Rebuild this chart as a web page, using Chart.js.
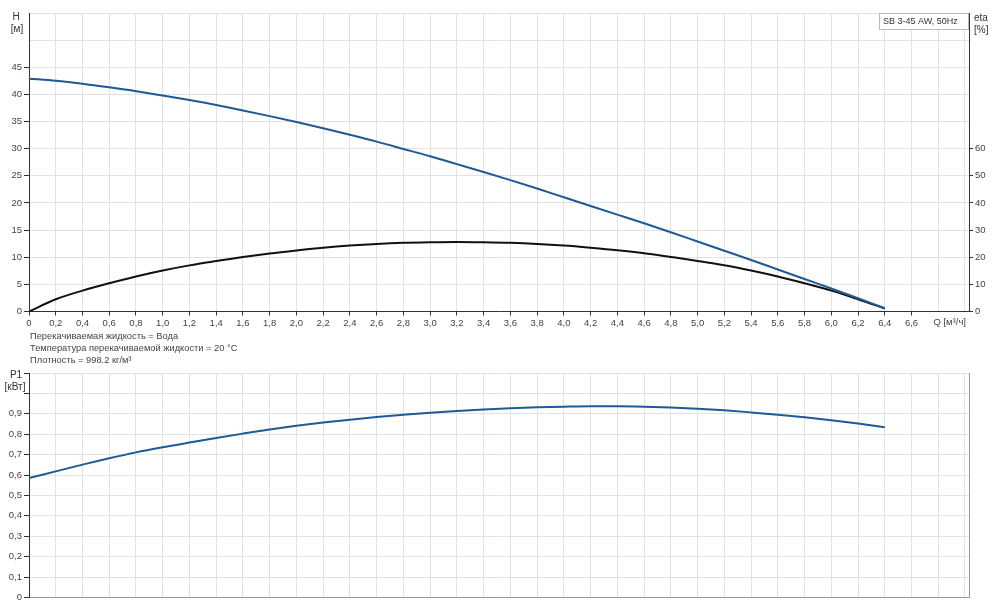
<!DOCTYPE html>
<html><head><meta charset="utf-8">
<script src="https://cdn.jsdelivr.net/npm/chart.js@4/dist/chart.umd.min.js"></script>
<style>
html,body{margin:0;padding:0;background:#fff;width:1000px;height:612px;overflow:hidden;font-family:"Liberation Sans",Arial,sans-serif;}
canvas{position:absolute;left:0;}
#c1{top:0;}
#c2{top:360px;}
.info{position:absolute;left:30px;font-size:9.3px;color:#444;line-height:12px;white-space:nowrap;}
</style></head><body>
<canvas id="c1" width="1000" height="340" style="width:1000px;height:340px"></canvas>
<canvas id="c2" width="1000" height="252" style="width:1000px;height:252px"></canvas>
<div class="info" style="top:330px">Перекачиваемая жидкость = Вода</div>
<div class="info" style="top:342px">Температура перекачиваемой жидкости = 20 °C</div>
<div class="info" style="top:354px">Плотность = 998.2 кг/м³</div>
<script>
// ---- data ----
const Q = [0,0.2,0.4,0.6,0.8,1.0,1.2,1.4,1.6,1.8,2.0,2.2,2.4,2.6,2.8,3.0,3.2,3.4,3.6,3.8,4.0,4.2,4.4,4.6,4.8,5.0,5.2,5.4,5.6,5.8,6.0,6.2,6.4];
const H = [42.9,42.5,41.95,41.3,40.6,39.8,38.95,38.05,37.05,36.0,34.9,33.75,32.55,31.3,29.95,28.6,27.15,25.7,24.2,22.65,21.05,19.45,17.85,16.25,14.6,12.9,11.2,9.5,7.75,6.0,4.25,2.45,0.6];
const ETA = [0,4.5,7.7,10.4,12.9,15.1,17.0,18.6,20.1,21.4,22.5,23.5,24.3,24.9,25.3,25.5,25.6,25.5,25.3,24.9,24.3,23.5,22.6,21.5,20.1,18.65,17.05,15.1,12.9,10.4,7.7,4.5,1.1];
const P1 = [0.585,0.618,0.651,0.682,0.711,0.736,0.759,0.782,0.803,0.823,0.841,0.857,0.871,0.884,0.895,0.905,0.914,0.921,0.927,0.932,0.935,0.937,0.937,0.935,0.931,0.925,0.917,0.907,0.896,0.883,0.868,0.852,0.834];
const X_TICKS = [0,0.2,0.4,0.6,0.8,1.0,1.2,1.4,1.6,1.8,2.0,2.2,2.4,2.6,2.8,3.0,3.2,3.4,3.6,3.8,4.0,4.2,4.4,4.6,4.8,5.0,5.2,5.4,5.6,5.8,6.0,6.2,6.4,6.6,6.8,7.0];
const X_MAX = 7.03;
const H_MAX = 55, H_LABEL_MAX = 45;
const ETA_MAX = 110, ETA_LABEL_MAX = 60;
const P_MAX = 1.1, P_LABEL_MAX = 0.9;
const X_LABEL_MAX = 6.6;
const LEGEND_TEXT = 'SB 3-45 AW, 50Hz';

// ---- style ----
const FAM = '"Liberation Sans", Arial, sans-serif';
const GRID = '#e2e2e2', AX = '#333', TXT = '#444', BLUE = '#1d5a97';
const tickFont = {family: FAM, size: 9.5};
const fmt = v => Math.abs(v) < 1e-9 ? '0' : v.toFixed(1).replace('.', ',');
const pts = (ys) => Q.map((q, i) => ({x: q, y: ys[i]}));

const topLabels = {
  id: 'topLabels',
  afterDraw(chart) {
    const c = chart.ctx, a = chart.chartArea, x = chart.scales.x;
    c.save();
    c.font = '10px ' + FAM; c.fillStyle = '#333'; c.textBaseline = 'middle';
    c.textAlign = 'center';
    c.fillText('H', 16, 17);
    c.fillText('[м]', 17, 29);
    c.textAlign = 'left';
    c.fillText('eta', a.right + 5, 18);
    c.fillText('[%]', a.right + 5, 30);
    c.font = '9.5px ' + FAM; c.fillStyle = TXT; c.textAlign = 'right';
    c.fillText('Q [м³/ч]', x.getPixelForValue(7.0) + 1, a.bottom + 11);
    // legend box
    const bw = 90, bh = 16;
    c.fillStyle = '#fff'; c.fillRect(a.right - bw, a.top, bw, bh);
    c.strokeStyle = '#bbb'; c.lineWidth = 1;
    c.strokeRect(a.right - bw + 0.5, a.top + 0.5, bw - 1, bh);
    c.fillStyle = '#333'; c.font = '9px ' + FAM; c.textAlign = 'left';
    c.fillText(LEGEND_TEXT, a.right - bw + 4, a.top + bh / 2 + 1);
    c.restore();
  }
};

new Chart(document.getElementById('c1'), {
  type: 'line',
  data: {datasets: [
    {label: 'H', data: pts(H), yAxisID: 'yH', borderColor: BLUE, borderWidth: 2, pointRadius: 0, cubicInterpolationMode: 'monotone', fill: false},
    {label: 'eta', data: pts(ETA), yAxisID: 'yE', borderColor: '#111', borderWidth: 2, pointRadius: 0, cubicInterpolationMode: 'monotone', fill: false}
  ]},
  options: {
    responsive: false, animation: false, devicePixelRatio: 1,
    layout: {padding: {top: 13, bottom: 0, left: 0, right: 0}},
    plugins: {legend: {display: false}, tooltip: {enabled: false}},
    scales: {
      x: {type: 'linear', min: 0, max: X_MAX,
        afterBuildTicks: s => { s.ticks = X_TICKS.map(v => ({value: v})); },
        ticks: {autoSkip: false, maxRotation: 0, font: tickFont, color: TXT, padding: 2,
          callback: v => v > X_LABEL_MAX + 1e-6 ? '' : fmt(v)},
        grid: {color: GRID, tickLength: 4, tickColor: ctx => (ctx.tick && ctx.tick.value <= X_LABEL_MAX + 1e-6) ? AX : 'rgba(0,0,0,0)'},
        border: {color: AX},
        afterFit: s => { s.height = 28.5; }},
      yH: {type: 'linear', position: 'left', min: 0, max: H_MAX,
        ticks: {stepSize: 5, font: tickFont, color: TXT, padding: 2, callback: v => v > H_LABEL_MAX ? '' : String(v)},
        grid: {color: GRID, tickLength: 5, tickColor: ctx => (ctx.tick && ctx.tick.value <= H_LABEL_MAX) ? AX : 'rgba(0,0,0,0)'},
        border: {color: AX},
        afterFit: s => { s.width = 29; }},
      yE: {type: 'linear', position: 'right', min: 0, max: ETA_MAX,
        ticks: {stepSize: 10, font: tickFont, color: TXT, padding: 2, callback: v => v > ETA_LABEL_MAX ? '' : String(v)},
        grid: {drawOnChartArea: false, tickLength: 4, tickColor: ctx => (ctx.tick && ctx.tick.value <= ETA_LABEL_MAX) ? AX : 'rgba(0,0,0,0)'},
        border: {color: AX},
        afterFit: s => { s.width = 31; }}
    }
  },
  plugins: [topLabels]
});

const botLabels = {
  id: 'botLabels',
  afterDraw(chart) {
    const c = chart.ctx;
    c.save();
    c.font = '10px ' + FAM; c.fillStyle = '#333'; c.textBaseline = 'middle'; c.textAlign = 'center';
    c.fillText('P1', 16, 15);
    c.fillText('[кВт]', 15, 27);
    c.restore();
  }
};

new Chart(document.getElementById('c2'), {
  type: 'line',
  data: {datasets: [
    {label: 'P1', data: pts(P1), yAxisID: 'yP', borderColor: BLUE, borderWidth: 2, pointRadius: 0, cubicInterpolationMode: 'monotone', fill: false}
  ]},
  options: {
    responsive: false, animation: false, devicePixelRatio: 1,
    layout: {padding: {top: 13, bottom: 0, left: 0, right: 0}},
    plugins: {legend: {display: false}, tooltip: {enabled: false}},
    scales: {
      x: {type: 'linear', min: 0, max: X_MAX,
        afterBuildTicks: s => { s.ticks = X_TICKS.map(v => ({value: v})); },
        ticks: {display: false},
        grid: {color: GRID, drawTicks: false},
        border: {color: '#999'},
        afterFit: s => { s.height = 14.5; }},
      yP: {type: 'linear', position: 'left', min: 0, max: P_MAX,
        ticks: {stepSize: 0.1, font: tickFont, color: TXT, padding: 2, callback: v => v > P_LABEL_MAX + 1e-6 ? '' : fmt(v)},
        grid: {color: GRID, tickLength: 5, tickColor: AX},
        border: {color: AX},
        afterFit: s => { s.width = 29; }},
      yR: {type: 'linear', position: 'right', min: 0, max: P_MAX,
        ticks: {display: false},
        grid: {drawOnChartArea: false, drawTicks: false},
        border: {color: '#999'},
        afterFit: s => { s.width = 31; }}
    }
  },
  plugins: [botLabels]
});
</script>
</body></html>
